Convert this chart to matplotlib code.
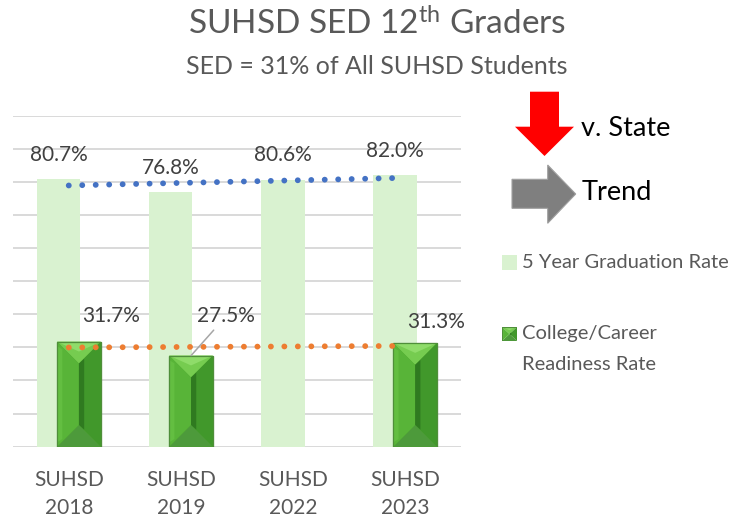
import matplotlib
matplotlib.use('Agg')
import matplotlib.pyplot as plt
import numpy as np
from matplotlib.patches import Polygon, Rectangle

# ---------------- data ----------------
categories = ['SUHSD\n2018', 'SUHSD\n2019', 'SUHSD\n2022', 'SUHSD\n2023']
grad_rate = [80.7, 76.8, 80.6, 82.0]
ccr_rate = [31.7, 27.5, np.nan, 31.3]
grad_labels = ['80.7%', '76.8%', '80.6%', '82.0%']
ccr_labels = ['31.7%', '27.5%', '', '31.3%']
legend_names = ['5 Year Graduation Rate', 'College/Career\nReadiness Rate']

# ---------------- style ----------------
plt.rcParams['font.family'] = ['Lato', 'DejaVu Sans']
plt.rcParams['mathtext.fontset'] = 'custom'
plt.rcParams['mathtext.rm'] = 'Lato'
plt.rcParams['mathtext.it'] = 'Lato'
plt.rcParams['mathtext.bf'] = 'Lato'

W, H = 754, 519
fig = plt.figure(figsize=(W / 100, H / 100), dpi=100)


def fx(px):
    return px / W


def fy(py):
    return 1 - py / H


LIGHT = '#d9f2d0'
DARK = '#4ea72e'
GRAY_TXT = '#595959'
LBL_TXT = '#404040'

ax = fig.add_axes([fx(12.7), fy(446.7), fx(461) - fx(12.7), fy(115.5) - fy(446.7)])
x = np.arange(len(categories))
bw = 0.39
off = 0.091

ax.set_xlim(-0.5, len(categories) - 0.5)
ax.set_ylim(0, 100)
ax.set_yticks(np.arange(0, 101, 10))
ax.yaxis.grid(True, color='#d9d9d9', linewidth=1.4)
ax.set_axisbelow(True)
for s in ax.spines.values():
    s.set_visible(False)
ax.tick_params(axis='y', left=False, labelleft=False)
ax.tick_params(axis='x', bottom=False, pad=13)
ax.set_xticks(x)
ax.set_xticklabels(categories, fontsize=15, color=GRAY_TXT, linespacing=1.5)

light_bars = ax.bar(x - off, grad_rate, bw, color=LIGHT, edgecolor='none', zorder=2)
dark_bars = ax.bar(x + off, ccr_rate, bw, color=DARK, edgecolor='#4f8f3a', linewidth=0.8, zorder=3)


def bevel(axis, x0, y0, w, h, dy, zorder, transform=None):
    """Draw a bevelled (pyramid) rectangle; dy = bevel depth in y units."""
    tr = transform if transform is not None else axis.transData
    xc = x0 + w / 2
    x1 = x0 + w
    y1 = y0 + h
    top_apex = (xc, y1 - dy)
    bot_apex = (xc, y0 + dy)
    faces = [
        ([(x0, y1), (x1, y1), top_apex], '#76cc50'),
        ([(x0, y0), (x1, y0), bot_apex], '#4d9a3b'),
        ([(x0, y0), (x0, y1), top_apex, bot_apex], '#58b438'),
        ([(x1, y0), (x1, y1), top_apex, bot_apex], '#41982b'),
    ]
    for pts, col in faces:
        axis.add_patch(Polygon(pts, closed=True, facecolor=col, edgecolor='none',
                               transform=tr, zorder=zorder))
    axis.add_patch(Polygon([(x0, y0 + dy * 0.2), (x0, y1 - dy * 0.2),
                            (x0 + w * 0.12, y1 - dy * 0.35), (x0 + w * 0.12, y0 + dy * 0.35)],
                           closed=True, facecolor='#63be41', edgecolor='none', transform=tr, zorder=zorder))
    axis.add_patch(Polygon([top_apex, (xc + w * 0.12, y1 - dy * 0.78), (xc + w * 0.12, y0 + dy * 0.78), bot_apex],
                           closed=True, facecolor='#2f7a20', edgecolor='none', transform=tr, zorder=zorder))
    axis.add_patch(Polygon([(x0, y1), (x1, y1), (xc, y1 - dy * 0.45)], closed=True,
                           facecolor='#8fdc6a', edgecolor='none', transform=tr, zorder=zorder))
    axis.add_patch(Rectangle((x0, y0), w, h, facecolor='none', edgecolor='#4f8f3a',
                             linewidth=0.9, transform=tr, zorder=zorder))


p0 = ax.transData.transform((0, 0))
px_per_x = ax.transData.transform((1, 0))[0] - p0[0]
px_per_y = ax.transData.transform((0, 1))[1] - p0[1]
for r in dark_bars:
    h = r.get_height()
    if np.isnan(h):
        continue
    half_px = r.get_width() * px_per_x / 2
    bevel(ax, r.get_x(), 0, r.get_width(), h, half_px / px_per_y, zorder=3)

# trendlines (linear fits)
xg = x.astype(float)
cg = np.polyfit(xg, grad_rate, 1)
mask = ~np.isnan(ccr_rate)
cc = np.polyfit(xg[mask], np.array(ccr_rate)[mask], 1)
xt = np.array([x[0], x[-1]], dtype=float)
dot = (0, (0.01, 2.3))
ax.plot(xt, np.polyval(cg, xt), color='#4472c4', lw=4.2, linestyle=dot,
        dash_capstyle='round', solid_capstyle='round', zorder=5)
ax.plot(xt, np.polyval(cc, xt), color='#ed7d31', lw=4.2, linestyle=dot,
        dash_capstyle='round', solid_capstyle='round', zorder=5)

# data labels (offsets in points)
for r, lab in zip(light_bars, grad_labels):
    ax.annotate(lab, (r.get_x() + r.get_width() / 2, r.get_height()), xytext=(0, 17.5),
                textcoords='offset points', ha='center', va='center', fontsize=15,
                color=LBL_TXT, zorder=6)

ccr_offsets = [(23.5, 18.5), (25.2, 28.3), (0, 0), (15, 15.5)]
for r, lab, o in zip(dark_bars, ccr_labels, ccr_offsets):
    if not lab:
        continue
    arrow = None
    if o[1] > 25:
        arrow = dict(arrowstyle='-', color='#a6a6a6', lw=1.1, shrinkA=1, shrinkB=0)
    ax.annotate(lab, (r.get_x() + r.get_width() / 2, r.get_height()), xytext=o,
                textcoords='offset points', ha='center', va='center', fontsize=15,
                color=LBL_TXT, zorder=6, arrowprops=arrow)

# titles
fig.text(0.5, fy(35), r'SUHSD SED 12$^{\mathrm{th}}$ Graders', ha='center', va='baseline',
         fontsize=24, color=GRAY_TXT)
fig.text(0.5, fy(74), 'SED = 31% of All SUHSD Students', ha='center', va='baseline',
         fontsize=18, color=GRAY_TXT)

# arrows (figure pixel coords)
red = [(530, 91.7), (559, 91.7), (559, 126.7), (574, 126.7), (544.5, 156),
       (515, 126.7), (530, 126.7)]
fig.patches.append(Polygon([(fx(a), fy(b)) for a, b in red], closed=True,
                           facecolor='#ff0000', edgecolor='none', transform=fig.transFigure))
gray = [(512, 179.3), (547.7, 179.3), (547.7, 165), (575.7, 194), (547.7, 223.3),
        (547.7, 208.3), (512, 208.3)]
fig.patches.append(Polygon([(fx(a), fy(b)) for a, b in gray], closed=True,
                           facecolor='#7f7f7f', edgecolor='#a0a0a0', linewidth=0.8,
                           transform=fig.transFigure))
fig.text(fx(581), fy(128), 'v. State', ha='left', va='center', fontsize=19.5, color='black')
fig.text(fx(582), fy(193), 'Trend', ha='left', va='center', fontsize=19.5, color='black')

# legend
fig.patches.append(Rectangle((fx(502), fy(269.5)), fx(15), fy(255) - fy(269.5),
                             facecolor=LIGHT, edgecolor='none', transform=fig.transFigure))
fig.text(fx(522), fy(262), legend_names[0], ha='left', va='center', fontsize=14.5, color=GRAY_TXT)
legax = fig.add_axes([fx(502), fy(341), fx(15), fy(327) - fy(341)])
legax.set_xlim(0, 1)
legax.set_ylim(0, 1)
legax.axis('off')
bevel(legax, 0, 0, 1, 1, 0.5, zorder=3)
fig.text(fx(522), fy(334), legend_names[1].split('\n')[0], ha='left', va='center',
         fontsize=14.5, color=GRAY_TXT)
fig.text(fx(522), fy(365), legend_names[1].split('\n')[1], ha='left', va='center',
         fontsize=14.5, color=GRAY_TXT)

fig.savefig('out.png', dpi=100)
